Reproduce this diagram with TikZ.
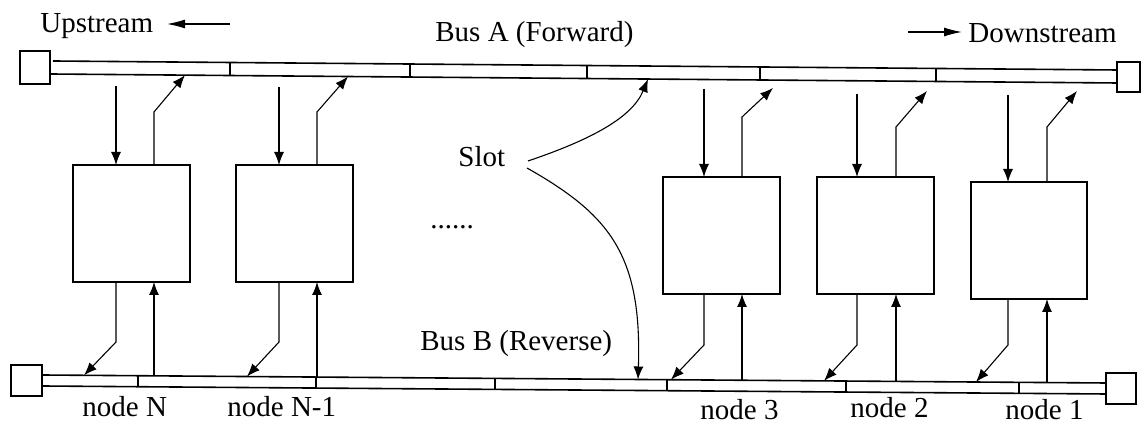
\documentclass[tikz,border=0pt]{standalone}
\usepackage{fontspec}
\setmainfont{Liberation Serif}
\usetikzlibrary{arrows.meta,calc}
\begin{document}
\begin{tikzpicture}[x=0.5pt,y=-0.5pt,
  bus/.style={line width=0.8pt},
  box/.style={draw,line width=0.8pt,minimum width=58.5pt,minimum height=58.5pt,inner sep=0pt,outer sep=0pt,anchor=north west},
  sq/.style={draw,line width=0.8pt,inner sep=0pt,outer sep=0pt},
  arr/.style={line width=0.55pt,-{Latex[length=6.5pt,width=5pt]}},
  dirarr/.style={line width=0.6pt,-{Latex[length=9pt,width=4.5pt]}},
  lbl/.style={font=\fontsize{14.5}{17}\selectfont,inner sep=0pt,anchor=base west}]
\useasboundingbox (0,0) rectangle (1141,431);

% ---- labels
\node[lbl] (up) at (40,33) {Upstream};
\node[lbl] (busA) at (435,42) {Bus A (Forward)};
\node[lbl] (down) at (968,43) {Downstream};
\node[lbl] (slot) at (458,167) {Slot};
\node[lbl] (dots) at (430,229) {......};
\node[lbl] (busB) at (420,351) {Bus B (Reverse)};
\node[lbl] (lN) at (82,417) {node N};
\node[lbl] (lN1) at (227,417) {node N-1};
\node[lbl] (l3) at (700,420) {node 3};
\node[lbl] (l2) at (850,418) {node 2};
\node[lbl] (l1) at (1005,420) {node 1};

% direction arrows
\coordinate (upA) at (230,24); \coordinate (upB) at (167,24);
\draw[dirarr] (upA) -- (upB);
\coordinate (dnA) at (908,32); \coordinate (dnB) at (962,32);
\draw[dirarr] (dnA) -- (dnB);

% ---- bus A
\node[sq,minimum width=15pt,minimum height=16.5pt] (sqAL) at (35,67.5) {};
\node[sq,minimum width=11.5pt,minimum height=15pt] (sqAR) at (1128.5,77) {};
\draw[bus] (53,61) -- (1117,70);
\draw[bus] (50,74) -- (1117,83);
\foreach \x/\t/\b in {230/62.5/75.5, 410/64.0/77.0, 587/65.5/78.5, 760/67.0/80.0, 936/68.5/81.5}
  \draw[line width=0.6pt] (\x,\t) -- (\x,\b);

% ---- bus B
\node[sq,minimum width=15.5pt,minimum height=15.5pt] (sqBL) at (26.5,380.5) {};
\node[sq,minimum width=15pt,minimum height=15.5pt] (sqBR) at (1121,388.5) {};
\draw[bus] (42,375) -- (1106,383);
\draw[bus] (42,386) -- (1106,394);
\foreach \x/\t/\b in {138/375.7/386.7, 316/377.1/388.1, 495/378.4/389.4, 667/379.7/390.7, 846/381.0/392.0, 1019/382.3/393.3}
  \draw[line width=0.6pt] (\x,\t) -- (\x,\b);

% ---- station boxes
\node[box] (bN)  at (73,165) {};
\node[box] (bN1) at (236,165) {};
\node[box] (b3)  at (663,177) {};
\node[box] (b2)  at (817,177) {};
\node[box,minimum width=58pt] (b1)  at (971,182) {};

% ---- node N
\coordinate (dN) at (116,86);   \coordinate (tN) at (185,75.1);
\coordinate (wN) at (84,375.3); \coordinate (eN) at (154,375.8);
\draw[arr] (dN) -- ($(bN.north west)+(43,0)$);
\draw[arr] ($(bN.north west)+(81,0)$) -- ++(0,-53) -- (tN);
\draw[arr] ($(bN.south west)+(43,0)$) -- ++(0,60) -- (wN);
\draw[arr] (eN) -- ($(bN.south west)+(81,0)$);

% ---- node N-1
\coordinate (dN1) at (279,87);    \coordinate (tN1) at (348,76.5);
\coordinate (wN1) at (247,376.5); \coordinate (eN1) at (317,377.1);
\draw[arr] (dN1) -- ($(bN1.north west)+(43,0)$);
\draw[arr] ($(bN1.north west)+(81,0)$) -- ++(0,-53) -- (tN1);
\draw[arr] ($(bN1.south west)+(43,0)$) -- ++(0,60) -- (wN1);
\draw[arr] (eN1) -- ($(bN1.south west)+(81,0)$);

% ---- node 3
\coordinate (d3) at (704,89);    \coordinate (t3) at (773,88);
\coordinate (w3) at (671,379.7); \coordinate (e3) at (742,380.3);
\draw[arr] (d3) -- ($(b3.north west)+(41,0)$);
\draw[arr] ($(b3.north west)+(79,0)$) -- ++(0,-60) -- (t3);
\draw[arr] ($(b3.south west)+(41,0)$) -- ++(0,51) -- (w3);
\draw[arr] (e3) -- ($(b3.south west)+(79,0)$);

% ---- node 2
\coordinate (d2) at (857,94);    \coordinate (t2) at (927,91);
\coordinate (w2) at (824,380.9); \coordinate (e2) at (896,381.4);
\draw[arr] (d2) -- ($(b2.north west)+(40,0)$);
\draw[arr] ($(b2.north west)+(79,0)$) -- ++(0,-50) -- (t2);
\draw[arr] ($(b2.south west)+(40,0)$) -- ++(0,51) -- (w2);
\draw[arr] (e2) -- ($(b2.south west)+(79,0)$);

% ---- node 1
\coordinate (d1) at (1008,95);   \coordinate (t1) at (1077,91);
\coordinate (w1) at (976,382);   \coordinate (e1) at (1047,382.5);
\draw[arr] (d1) -- ($(b1.north west)+(37,0)$);
\draw[arr] ($(b1.north west)+(76,0)$) -- ++(0,-55) -- (t1);
\draw[arr] ($(b1.south west)+(37,0)$) -- ++(0,46) -- (w1);
\draw[arr] (e1) -- ($(b1.south west)+(76,0)$);

% ---- slot pointers
\coordinate (s1) at (528,161); \coordinate (sA) at (648,79.1);
\coordinate (s2) at (527,168); \coordinate (sB) at (638,379.5);
\draw[arr] (s1) .. controls (590,140) and (632,118) .. (sA);
\draw[arr] (s2) .. controls (610,215) and (642,255) .. (sB);
\end{tikzpicture}
\end{document}
